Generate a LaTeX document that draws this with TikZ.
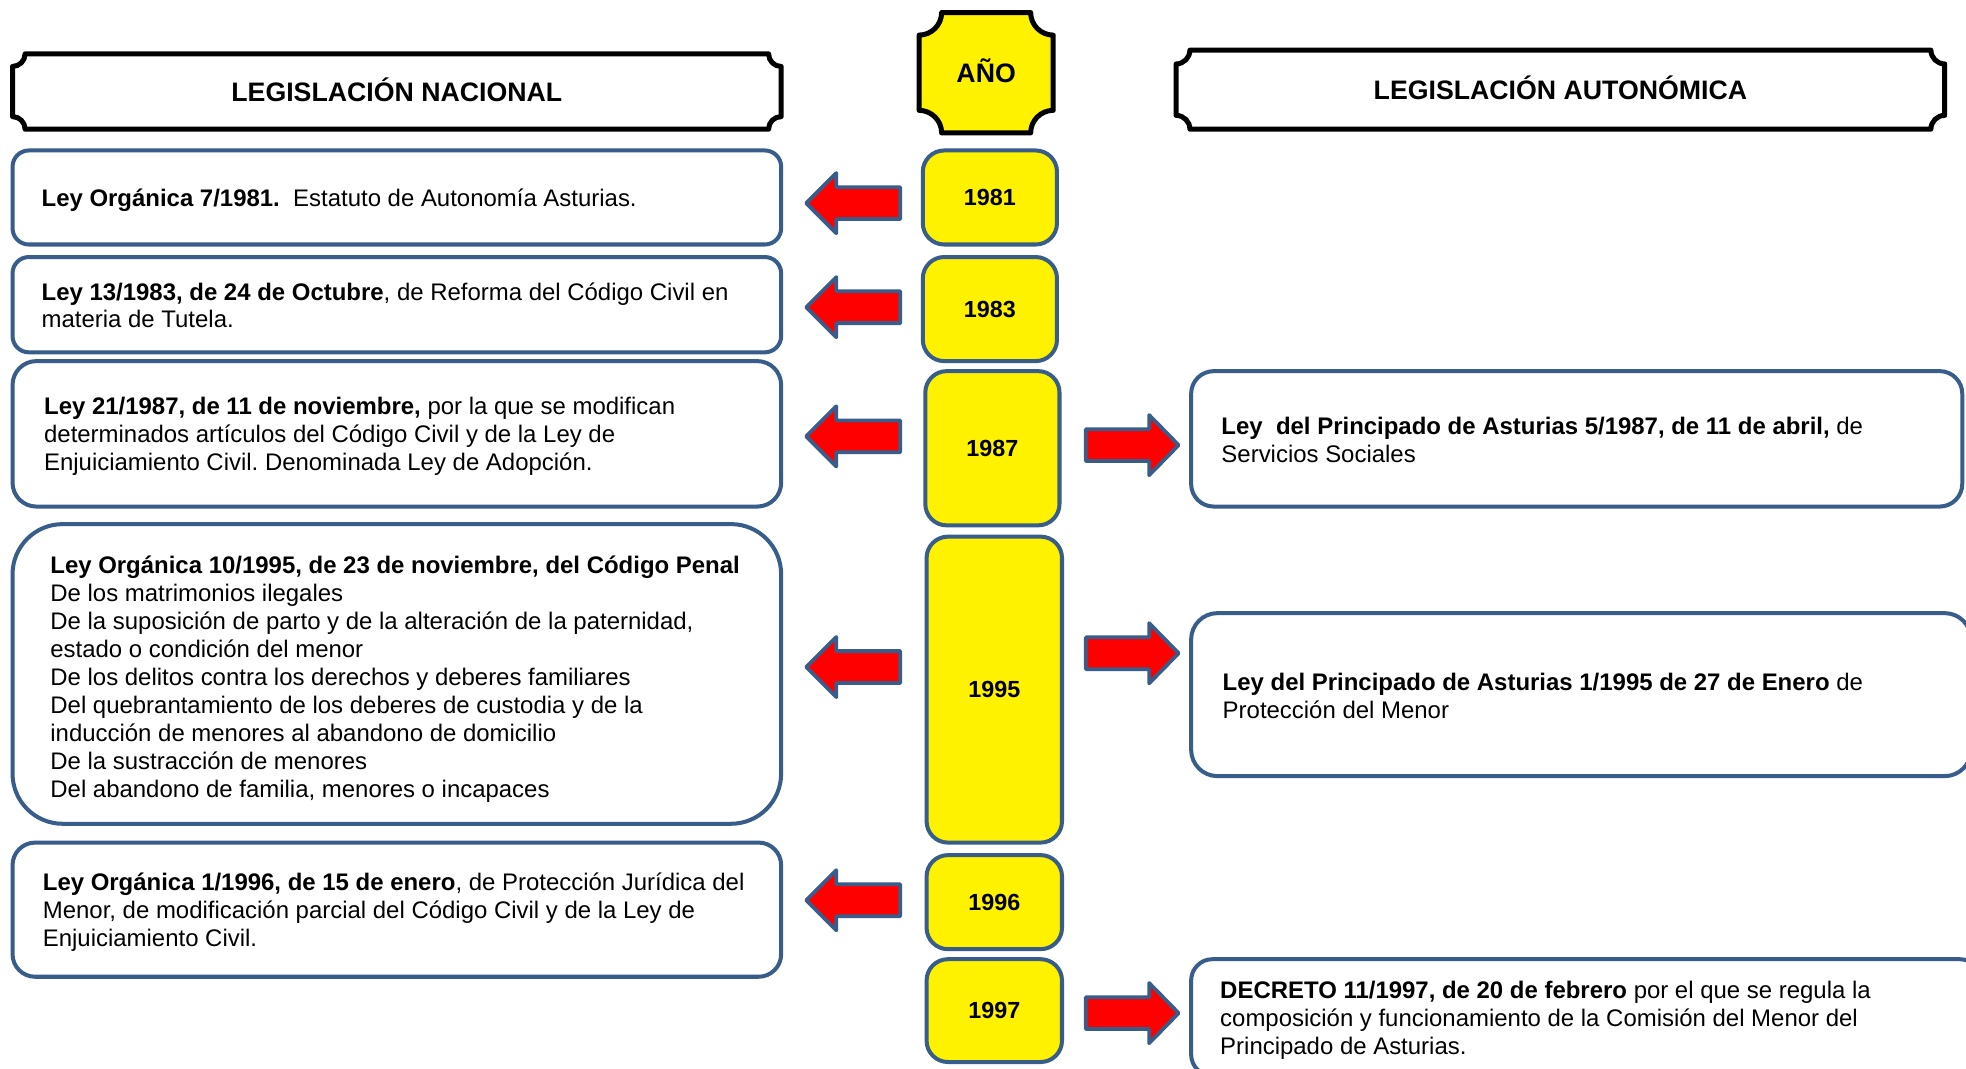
\documentclass[tikz,border=0pt]{standalone}
\usepackage{fontspec}
\setmainfont{Liberation Sans}
\frenchspacing
\definecolor{bdr}{HTML}{385D8A}
\newcommand\plaq[5]{({#1+#5},#2) -- ({#3-#5},#2) .. controls ({#3-#5},{#2+0.55*#5}) and ({#3-0.55*#5},{#2+#5}) .. (#3,{#2+#5}) -- (#3,{#4-#5}) .. controls ({#3-0.55*#5},{#4-#5}) and ({#3-#5},{#4-0.55*#5}) .. ({#3-#5},#4) -- ({#1+#5},#4) .. controls ({#1+#5},{#4-0.55*#5}) and ({#1+0.55*#5},{#4-#5}) .. (#1,{#4-#5}) -- (#1,{#2+#5}) .. controls ({#1+0.55*#5},{#2+#5}) and ({#1+#5},{#2+0.55*#5}) .. cycle}
\tikzset{
  lawbox/.style={draw=bdr, line width=3.2pt, fill=white, rounded corners=#1, inner sep=0pt},
  yearbox/.style={draw=bdr, line width=3.2pt, fill=yellow, rounded corners=17pt, inner sep=0pt,
     font=\fontsize{18.6}{22.3}\selectfont\bfseries},
  lawtext/.style={anchor=west, align=left, inner sep=0pt, font=\fontsize{19.1}{22.3}\selectfont},
  plaque/.style={draw=black, line width=4pt, line join=round},
  headtext/.style={anchor=base, inner sep=0pt, font=\fontsize{21.3}{25}\selectfont\bfseries},
  blockarrow/.style={draw=bdr, fill=red, line width=3pt, line join=round},
  larr/.pic={\filldraw[blockarrow] (0,0) -- (24,-24) -- (24,-12.7) -- (75,-12.7) -- (75,12.7) -- (24,12.7) -- (24,24) -- cycle;},
  rarr/.pic={\filldraw[blockarrow] (0,-12.7) -- (50.5,-12.7) -- (50.5,-24) -- (74,0) -- (50.5,24) -- (50.5,12.7) -- (0,12.7) -- cycle;}
}
\begin{document}
\begin{tikzpicture}[x=1pt,y=-1pt]
\useasboundingbox (0,0) rectangle (1568,852);
\clip (0,0) rectangle (1568,852);
\fill[white] (0,0) rectangle (1568,852);

% headers
\filldraw[plaque, fill=white] \plaq{10}{43}{623}{103}{10};
\node[headtext] (hnac) at (316.5,80.6) {LEGISLACIÓN NACIONAL};
\filldraw[plaque, fill=yellow] \plaq{733}{10}{840}{106}{18};
\node[headtext] (hano) at (786.5,65.6) {AÑO};
\filldraw[plaque, fill=white] \plaq{938}{40}{1551}{103}{11};
\node[headtext] (haut) at (1244.5,79.6) {LEGISLACIÓN AUTONÓMICA};

% year boxes
\node[yearbox, minimum width=107pt, minimum height=75pt] (y81) at (789.5,157.5) {1981};
\node[yearbox, minimum width=107pt, minimum height=83pt] (y83) at (789.5,246.5) {1983};
\node[yearbox, minimum width=107pt, minimum height=123pt] (y87) at (791.5,357.5) {1987};
\node[yearbox, minimum width=108pt, minimum height=244pt] (y95) at (793,550) {1995};
\node[yearbox, minimum width=108pt, minimum height=75pt] (y96) at (793,719.5) {1996};
\node[yearbox, minimum width=108pt, minimum height=82pt] (y97) at (793,806) {1997};

% national boxes
\node[lawbox=13pt, minimum width=613pt, minimum height=75pt] (n81) at (316.5,157.5) {};
\node[lawtext] (n81t) at (33,160) {\textbf{Ley Orgánica 7/1981.}\ \ Estatuto de Autonomía Asturias.};
\node[lawbox=13pt, minimum width=613pt, minimum height=76pt] (n83) at (316.5,243) {};
\node[lawtext] (n83t) at (33,243.5) {\textbf{Ley 13/1983, de 24 de Octubre}, de Reforma del Código Civil en\\materia de Tutela.};
\node[lawbox=19pt, minimum width=613pt, minimum height=116pt] (n87) at (316.5,346) {};
\node[lawtext] (n87t) at (35,348) {\textbf{Ley 21/1987, de 11 de noviembre,} por la que se modifican\\determinados artículos del Código Civil y de la Ley de\\Enjuiciamiento Civil. Denominada Ley de Adopción.};
\node[lawbox=40pt, minimum width=613pt, minimum height=239pt] (n95) at (316.5,537.5) {};
\node[lawtext] (n95t) at (40,541.5) {\textbf{Ley Orgánica 10/1995, de 23 de noviembre, del Código Penal}\\De los matrimonios ilegales\\De la suposición de parto y de la alteración de la paternidad,\\estado o condición del menor\\De los delitos contra los derechos y deberes familiares\\Del quebrantamiento de los deberes de custodia y de la\\inducción de menores al abandono de domicilio\\De la sustracción de menores\\Del abandono de familia, menores o incapaces};
\node[lawbox=18pt, minimum width=613pt, minimum height=107pt] (n96) at (316.5,725.5) {};
\node[lawtext] (n96t) at (34,727.5) {\textbf{Ley Orgánica 1/1996, de 15 de enero}, de Protección Jurídica del\\Menor, de modificación parcial del Código Civil y de la Ley de\\Enjuiciamiento Civil.};

% autonomic boxes
\node[lawbox=18pt, minimum width=615pt, minimum height=108pt] (a87) at (1257.5,350) {};
\node[lawtext] (a87t) at (974,350.5) {\textbf{Ley\ \ del Principado de Asturias 5/1987, de 11 de abril,} de\\Servicios Sociales};
\node[lawbox=21pt, minimum width=622pt, minimum height=130pt] (a95) at (1261,554) {};
\node[lawtext] (a95t) at (975,555) {\textbf{Ley del Principado de Asturias 1/1995 de 27 de Enero} de\\Protección del Menor};
\node[lawbox=17pt, minimum width=630pt, minimum height=93pt] (a97) at (1265,811.5) {};
\node[lawtext] (a97t) at (973,813.5) {\textbf{DECRETO 11/1997, de 20 de febrero} por el que se regula la\\composición y funcionamiento de la Comisión del Menor del\\Principado de Asturias.};

% arrows
\pic (l81) at (643,162) {larr};
\pic (l83) at (643,245) {larr};
\pic (l87) at (643,348) {larr};
\pic (l95) at (643,532) {larr};
\pic (l96) at (643,718) {larr};
\pic (r87) at (866,355) {rarr};
\pic (r95) at (866,521) {rarr};
\pic (r97) at (866,808) {rarr};
\end{tikzpicture}
\end{document}
